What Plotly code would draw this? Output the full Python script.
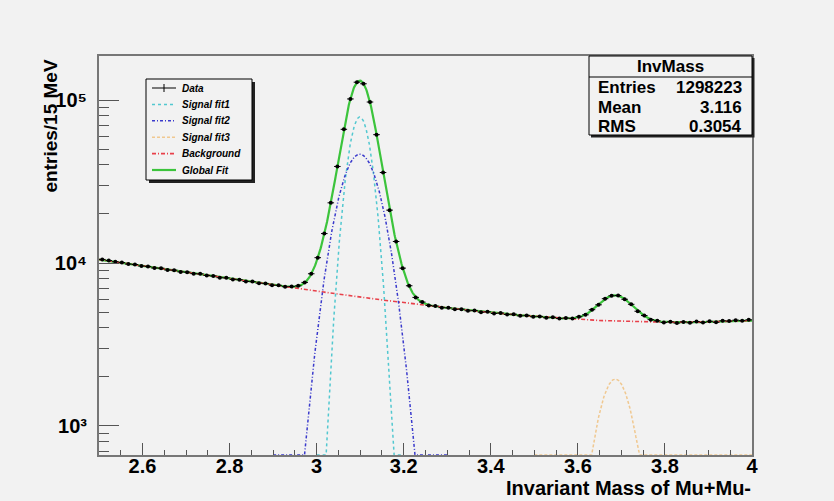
import numpy as np
import plotly.graph_objects as go

# ---------------- data ----------------
bin_lo, bin_hi, bin_width = 2.5, 4.0, 0.015
data_counts = [
    10520, 10350, 10180, 10060, 9850, 9790, 9580, 9530, 9320, 9290,
    9060, 9040, 8820, 8790, 8600, 8580, 8380, 8330, 8120, 8110,
    7930, 7900, 7700, 7690, 7520, 7480, 7310, 7290, 7150, 7180,
    7240, 7600, 8590, 10780, 15150, 23400, 39100, 66100, 101500, 128600,
    125800, 97200, 61300, 35900, 21100, 13550, 9300, 7250, 6150, 5760,
    5490, 5440, 5320, 5310, 5200, 5210, 5090, 5110, 4990, 5020,
    4900, 4930, 4830, 4850, 4740, 4770, 4680, 4700, 4610, 4640,
    4560, 4590, 4570, 4680, 4810, 5170, 5540, 6040, 6290, 6320,
    5990, 5580, 5060, 4760, 4490, 4420, 4310, 4360, 4280, 4350,
    4300, 4370, 4310, 4390, 4330, 4420, 4400, 4460, 4430, 4480,
]

# fit functions
bkg_pol2 = [10500, -9305, 3508]          # polynomial in (m - 2.5)
sig1_params = [78700, 3.099, 0.025]      # amplitude, mean, sigma
sig1_range = [3.0, 3.2]
sig2_params = [46600, 3.099, 0.0435]
sig2_range = [2.9, 3.3]
sig3_params = [1940, 3.686, 0.037]
sig3_range = [3.5, 4.0]

stats_name = "InvMass"
stats_labels = ["Entries", "Mean", "RMS"]
stats_values = ["1298223", "3.116", "0.3054"]

legend_names = ["Data", "Signal fit1", "Signal fit2", "Signal fit3", "Background", "Global Fit"]

x_title = "Invariant Mass of Mu+Mu-"
y_title = "entries/15 MeV"
y_major_vals = [1e3, 1e4, 1e5]
y_major_text = ["10³", "10⁴", "10⁵"]
y_range_log = [2.822, 5.27]

# ---------------- styles ----------------
BG = "#f2f2f2"
FONT = "Liberation Sans"
W, H = 834, 501
L, R, T, B = 99, 752, 56, 455

style_data = dict(color="black", width=1)
style_sig1 = dict(color="#52c8d0", width=1.5, dash="dot")
style_sig2 = dict(color="#3a3acc", width=1.5, dash="3px,2px,1px,2px")
style_sig3 = dict(color="#f0c890", width=1.5, dash="3px,2px")
style_bkg = dict(color="#e8404a", width=1.6, dash="4px,2px,1px,2px")
style_glob = dict(color="#3cc43c", width=2.2)


def px(x):
    return (x - L) / (R - L)


def py(y):
    return (B - y) / (B - T)


def gauss(x, p):
    return p[0] * np.exp(-0.5 * ((x - p[1]) / p[2]) ** 2)


def bkg(x):
    d = x - bin_lo
    return bkg_pol2[0] + bkg_pol2[1] * d + bkg_pol2[2] * d ** 2


floor_val = 10 ** y_range_log[0]

centers = bin_lo + bin_width * (np.arange(len(data_counts)) + 0.5)
counts = np.array(data_counts, dtype=float)

xf = np.linspace(bin_lo, bin_hi, 1201)
total = bkg(xf) + gauss(xf, sig1_params) + gauss(xf, sig2_params) + gauss(xf, sig3_params)

x1 = np.linspace(sig1_range[0], sig1_range[1], 400)
x2 = np.linspace(sig2_range[0], sig2_range[1], 400)
x3 = np.linspace(sig3_range[0], sig3_range[1], 400)

fig = go.Figure()

fig.add_trace(go.Scatter(x=xf, y=total, mode="lines", name=legend_names[5], line=style_glob))
fig.add_trace(go.Scatter(x=xf, y=bkg(xf), mode="lines", name=legend_names[4], line=style_bkg))
fig.add_trace(go.Scatter(x=x1, y=np.maximum(gauss(x1, sig1_params), floor_val), mode="lines",
                         name=legend_names[1], line=style_sig1))
fig.add_trace(go.Scatter(x=x2, y=np.maximum(gauss(x2, sig2_params), floor_val), mode="lines",
                         name=legend_names[2], line=style_sig2))
fig.add_trace(go.Scatter(x=x3, y=np.maximum(gauss(x3, sig3_params), floor_val), mode="lines",
                         name=legend_names[3], line=style_sig3))
fig.add_trace(go.Scatter(x=centers, y=counts, mode="markers", name=legend_names[0],
                         marker=dict(color="black", size=4, symbol="circle"),
                         error_x=dict(type="constant", value=bin_width / 2, color="black",
                                      thickness=1, width=0),
                         error_y=dict(type="data", array=np.sqrt(counts), color="black",
                                      thickness=1, width=0)))

tick_color = "#555555"
fig.update_xaxes(range=[bin_lo, bin_hi], tick0=0, dtick=0.2, ticks="inside", ticklen=12,
                 tickwidth=1, tickcolor=tick_color, showline=True, linecolor="#777777",
                 linewidth=2, mirror=True, showgrid=False, zeroline=False,
                 ticklabelstandoff=-8,
                 tickfont=dict(family=FONT, size=20, color="black", weight="bold"),
                 minor=dict(tick0=0, dtick=0.05, ticks="inside", ticklen=5,
                            tickcolor=tick_color, tickwidth=1, showgrid=False))

minor_y = [m * 10 ** e for e in (2, 3, 4, 5) for m in range(2, 10)]
fig.update_yaxes(type="log", range=y_range_log, tickmode="array", tickvals=y_major_vals,
                 ticktext=y_major_text,
                 ticks="inside", ticklen=20, tickwidth=1, tickcolor=tick_color,
                 showline=True, linecolor="#777777", linewidth=2, mirror=True,
                 showgrid=False, zeroline=False, ticklabelstandoff=6,
                 tickfont=dict(family=FONT, size=20, color="black", weight="bold"),
                 minor=dict(tickmode="array", tickvals=minor_y, ticks="inside", ticklen=10,
                            tickcolor=tick_color, tickwidth=1, showgrid=False))

shapes = [
    # stats box shadow, box and separator
    dict(type="rect", xref="paper", yref="paper", x0=px(591), x1=px(754.5), y0=py(137.5), y1=py(58),
         fillcolor="#222222", line=dict(width=0), layer="above"),
    dict(type="rect", xref="paper", yref="paper", x0=px(589), x1=px(752), y0=py(135), y1=py(56),
         fillcolor=BG, line=dict(color="black", width=1), layer="above"),
    dict(type="line", xref="paper", yref="paper", x0=px(589), x1=px(752), y0=py(77), y1=py(77),
         line=dict(color="black", width=1), layer="above"),
    # legend box shadow and box
    dict(type="rect", xref="paper", yref="paper", x0=px(149), x1=px(255), y0=py(183), y1=py(82),
         fillcolor="#222222", line=dict(width=0), layer="above"),
    dict(type="rect", xref="paper", yref="paper", x0=px(146), x1=px(252), y0=py(180), y1=py(79),
         fillcolor=BG, line=dict(color="black", width=1), layer="above"),
]

annotations = [
    dict(text=stats_name, xref="paper", yref="paper", x=px(670.5), y=py(66.5), showarrow=False,
         xanchor="center", yanchor="middle", font=dict(family=FONT, size=17, color="black", weight="bold")),
    dict(text=x_title, xref="paper", yref="paper", x=px(753), y=py(488), showarrow=False,
         xanchor="right", yanchor="middle", font=dict(family=FONT, size=20, color="black", weight="bold")),
    dict(text=y_title, xref="paper", yref="paper", x=px(50), y=py(58), showarrow=False,
         textangle=-90, xanchor="center", yanchor="top",
         font=dict(family=FONT, size=19, color="black", weight="bold")),
]
row_y = [87, 107, 126]
for lab, val, yy in zip(stats_labels, stats_values, row_y):
    annotations.append(dict(text=lab, xref="paper", yref="paper", x=px(596), y=py(yy), showarrow=False,
                            xanchor="left", yanchor="middle",
                            font=dict(family=FONT, size=17, color="black", weight="bold")))
    annotations.append(dict(text=val, xref="paper", yref="paper", x=px(744), y=py(yy), showarrow=False,
                            xanchor="right", yanchor="middle",
                            font=dict(family=FONT, size=17, color="black", weight="bold")))

# legend entries (sample line + text) in the legend box
legend_styles = [style_data, style_sig1, style_sig2, style_sig3, style_bkg, style_glob]
legend_rows = [88, 104.4, 120.8, 137.2, 153.6, 170]
for name, st, yy in zip(legend_names, legend_styles, legend_rows):
    shapes.append(dict(type="line", xref="paper", yref="paper", x0=px(152), x1=px(176),
                       y0=py(yy), y1=py(yy), line=st, layer="above"))
    annotations.append(dict(text=name, xref="paper", yref="paper", x=px(180), y=py(yy),
                            showarrow=False, xanchor="left", yanchor="middle",
                            font=dict(family=FONT, size=10, color="black", weight="bold",
                                      style="italic")))
# cross mark of the data sample
shapes.append(dict(type="line", xref="paper", yref="paper", x0=px(164), x1=px(164),
                   y0=py(legend_rows[0] - 4), y1=py(legend_rows[0] + 4),
                   line=dict(color="black", width=1), layer="above"))

fig.update_layout(
    width=W, height=H,
    margin=dict(l=L, r=W - R, t=T, b=H - B),
    paper_bgcolor=BG, plot_bgcolor=BG,
    font=dict(family=FONT, color="black"),
    showlegend=False,
    shapes=shapes, annotations=annotations,
)

fig.write_html("out.html")
